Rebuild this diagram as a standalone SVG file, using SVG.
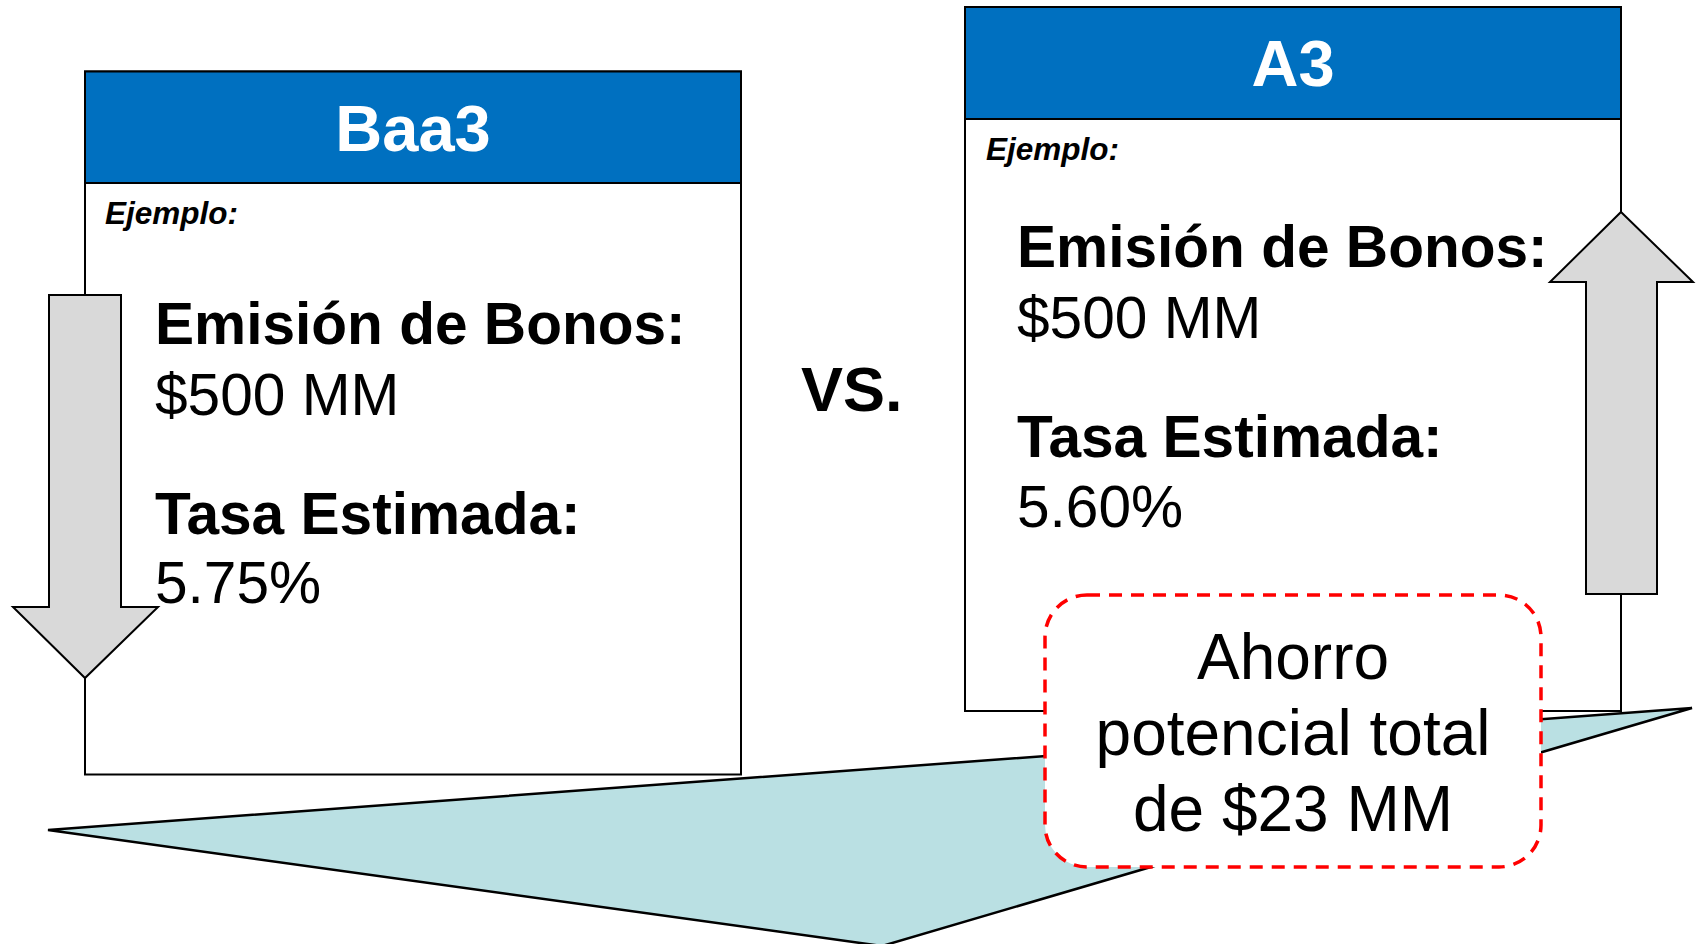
<svg xmlns="http://www.w3.org/2000/svg" width="1698" height="944" viewBox="0 0 1698 944">
<style>
.card{fill:#FFFFFF;stroke:#000;stroke-width:2}
.hdr{fill:#0070C0;stroke:#000;stroke-width:2}
.htxt{font-family:"Liberation Sans",Arial,sans-serif;font-weight:bold;font-size:65px;fill:#FFFFFF;text-anchor:middle}
.ej{font-family:"Liberation Sans",Arial,sans-serif;font-weight:bold;font-style:italic;font-size:31.5px;fill:#000}
.lbl{font-family:"Liberation Sans",Arial,sans-serif;font-weight:bold;font-size:58.6px;fill:#000}
.val{font-family:"Liberation Sans",Arial,sans-serif;font-size:58.6px;fill:#000}
.arrow{fill:#D9D9D9;stroke:#000;stroke-width:2;stroke-linejoin:miter}
.vs{font-family:"Liberation Sans",Arial,sans-serif;font-weight:bold;font-size:63px;fill:#000}
.sav{font-family:"Liberation Sans",Arial,sans-serif;font-size:64px;fill:#000;text-anchor:middle}
</style>
<g id="wedge">
<polygon points="48,830 1692,708 882,946" fill="#BAE0E3" stroke="#000" stroke-width="2.5" stroke-linejoin="miter"/>
</g>
<g id="card-baa3">
<rect class="card" x="85" y="71.5" width="656" height="703"/>
<rect class="hdr" x="85" y="71.5" width="656" height="111.5"/>
<text class="htxt" x="413" y="151">Baa3</text>
</g>
<g id="card-a3">
<rect class="card" x="965" y="7" width="656" height="704"/>
<rect class="hdr" x="965" y="7" width="656" height="112"/>
<text class="htxt" x="1293" y="86">A3</text>
</g>
<g id="connectors">
<polygon id="arrow-down" class="arrow" points="49,295 121,295 121,607 158,607 85,678 13,607 49,607"/>
<polygon id="arrow-up" class="arrow" points="1621,212 1693,282 1657,282 1657,594 1586,594 1586,282 1550,282"/>
</g>
<g id="text-baa3">
<text class="ej" x="105" y="224">Ejemplo:</text>
<text class="lbl" x="155" y="344">Emisión de Bonos:</text>
<text class="val" x="155" y="415">$500 MM</text>
<text class="lbl" x="155" y="534">Tasa Estimada:</text>
<text class="val" x="155" y="603">5.75%</text>
</g>
<g id="text-a3">
<text class="ej" x="986" y="160">Ejemplo:</text>
<text class="lbl" x="1017" y="267">Emisión de Bonos:</text>
<text class="val" x="1017" y="338">$500 MM</text>
<text class="lbl" x="1017" y="457">Tasa Estimada:</text>
<text class="val" x="1017" y="527">5.60%</text>
</g>
<g id="vs">
<text class="vs" x="801" y="411">VS.</text>
</g>
<g id="savings">
<rect x="1045" y="595" width="496" height="272" rx="42" ry="42" fill="#FFFFFF" stroke="#FF0000" stroke-width="3.5" stroke-dasharray="13,9"/>
<text class="sav" x="1293" y="679">Ahorro</text>
<text class="sav" x="1293" y="755">potencial total</text>
<text class="sav" x="1293" y="831">de $23 MM</text>
</g>
</svg>
